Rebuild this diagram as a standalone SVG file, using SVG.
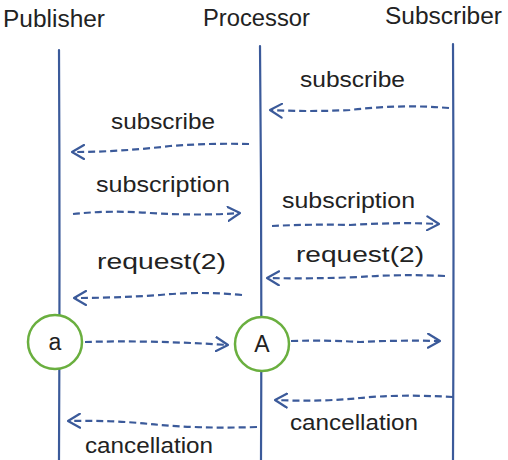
<svg xmlns="http://www.w3.org/2000/svg" width="508" height="460" viewBox="0 0 508 460">
<style>
.life{fill:none;stroke:#3b5a9a;stroke-width:2.2;stroke-linecap:round}
.msg{fill:none;stroke:#3b5a9a;stroke-width:2.2;stroke-dasharray:7 4;marker-end:url(#arr)}
.t{font-family:"Liberation Sans","DejaVu Sans",sans-serif;font-size:22px;fill:#222}
.h{font-family:"Liberation Sans","DejaVu Sans",sans-serif;font-size:23px;fill:#222}
.c{fill:#fff;stroke:#6aaf3f;stroke-width:2.5}
</style>
<defs>
<marker id="arr" viewBox="0 0 14 16" refX="13" refY="8" markerWidth="14" markerHeight="16" markerUnits="userSpaceOnUse" orient="auto">
<path d="M1,1 L13,8 L1,15" fill="none" stroke="#3b5a9a" stroke-width="2.2" stroke-linecap="round" stroke-linejoin="round"/>
</marker>
</defs>
<g id="publisher">
<text class="h" x="3" y="27" textLength="102" lengthAdjust="spacingAndGlyphs">Publisher</text>
<path class="life" d="M59,50 Q60,250 59,460"/>
</g>
<g id="processor">
<text class="h" x="203" y="26" textLength="107" lengthAdjust="spacingAndGlyphs">Processor</text>
<path class="life" d="M260,46 Q262,250 261,460"/>
</g>
<g id="subscriber">
<text class="h" x="385" y="24" textLength="117" lengthAdjust="spacingAndGlyphs">Subscriber</text>
<path class="life" d="M453,44 Q454,250 453,460"/>
</g>
<g id="node-a">
<circle class="c" cx="55" cy="342" r="27"/>
<text class="h" x="55" y="350" text-anchor="middle">a</text>
</g>
<g id="node-A">
<circle class="c" cx="262" cy="344" r="27"/>
<text class="h" x="262" y="352" text-anchor="middle">A</text>
</g>
<g id="connectors">
<path class="msg" d="M449,108 Q400,104 350,110 Q310,112 270,110"/>
<path class="msg" d="M249,144 Q210,143 170,146 Q120,152 72,152"/>
<path class="msg" d="M73,214 Q110,210 150,213 Q200,216 240,213"/>
<path class="msg" d="M272,226 Q310,224 350,225 Q400,222 439,224"/>
<path class="msg" d="M242,295 Q200,291 160,295 Q115,298 74,298"/>
<path class="msg" d="M445,276 Q400,274 360,277 Q310,279 267,278"/>
<path class="msg" d="M85,342 Q150,340 228,345"/>
<path class="msg" d="M291,341 Q330,340 360,342 Q400,340 440,341"/>
<path class="msg" d="M453,397 Q400,394 360,398 Q320,402 275,400"/>
<path class="msg" d="M257,427 Q200,429 150,424 Q110,420 68,421"/>
</g>
<g id="labels">
<text class="t" x="300" y="87" textLength="105" lengthAdjust="spacingAndGlyphs">subscribe</text>
<text class="t" x="111" y="129" textLength="104" lengthAdjust="spacingAndGlyphs">subscribe</text>
<text class="t" x="96" y="192" textLength="134" lengthAdjust="spacingAndGlyphs">subscription</text>
<text class="t" x="282" y="208" textLength="133" lengthAdjust="spacingAndGlyphs">subscription</text>
<text class="t" x="97" y="269" textLength="129" lengthAdjust="spacingAndGlyphs">request(2)</text>
<text class="t" x="296" y="262" textLength="128" lengthAdjust="spacingAndGlyphs">request(2)</text>
<text class="t" x="290" y="430" textLength="128" lengthAdjust="spacingAndGlyphs">cancellation</text>
<text class="t" x="85" y="453" textLength="128" lengthAdjust="spacingAndGlyphs">cancellation</text>
</g>
</svg>
